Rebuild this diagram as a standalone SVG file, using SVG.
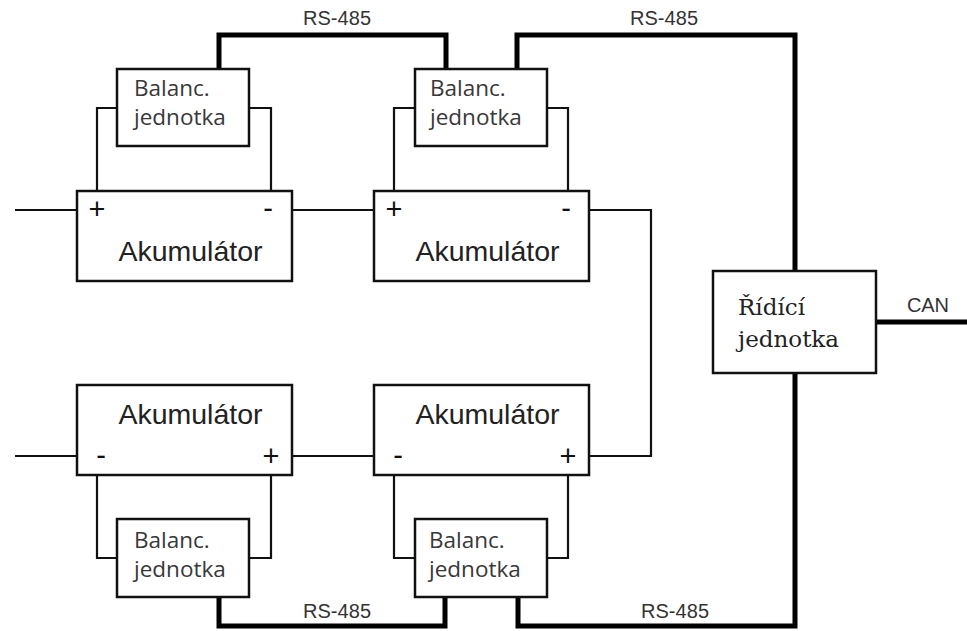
<svg xmlns="http://www.w3.org/2000/svg" width="967" height="631" viewBox="0 0 967 631">
<style>
.box{fill:#fff;stroke:#111;stroke-width:2.5}
.thin{fill:none;stroke:#111;stroke-width:2.2}
.thick{fill:none;stroke:#000;stroke-width:5}
.ak{font-family:"Liberation Sans",Arial,sans-serif;font-size:28.5px;fill:#222;text-anchor:middle}
.pm{font-family:"Liberation Sans",Arial,sans-serif;font-size:29px;fill:#111;text-anchor:middle}
.bal{font-family:"Open Sans","Noto Sans",sans-serif;font-size:22.5px;fill:#383838}
.rid{font-family:"DejaVu Serif","Liberation Serif",serif;font-size:23px;fill:#222}
.lbl{font-family:"Liberation Sans",Arial,sans-serif;font-size:20px;fill:#333}
</style>
<rect width="967" height="631" fill="#fff"/>
<g id="connectors">
<path class="thin" d="M117,108 H97 V191 M249,108 H271 V191"/>
<path class="thin" d="M415,108 H394 V191 M547,108 H568 V191"/>
<path class="thin" d="M97,475 V558 H117 M271,475 V558 H249"/>
<path class="thin" d="M394,475 V558 H415 M568,475 V558 H547"/>
<path class="thin" d="M15,210 H77 M292,210 H374 M589,210 H651 V456 H589 M15,456 H77 M292,456 H374"/>
<path class="thick" d="M219,69 V35 H446 V69"/>
<path class="thick" d="M517,69 V35 H795 V271"/>
<path class="thick" d="M795,373 V626 H518 V597"/>
<path class="thick" d="M445,597 V626 H219 V597"/>
<path class="thick" d="M876,322 H967"/>
<text class="lbl" x="303" y="25" textLength="68">RS-485</text>
<text class="lbl" x="630" y="25" textLength="68">RS-485</text>
<text class="lbl" x="303" y="618" textLength="68">RS-485</text>
<text class="lbl" x="641" y="618" textLength="68">RS-485</text>
<text class="lbl" x="907" y="312" font-size="19" textLength="42">CAN</text>
</g>
<g id="akum-tl">
<rect class="box" x="77" y="191" width="215" height="90"/>
<text class="pm" x="97" y="219">+</text>
<text class="pm" x="268" y="218">-</text>
<text class="ak" x="190.5" y="261">Akumulátor</text>
</g>
<g id="akum-tm">
<rect class="box" x="374" y="191" width="215" height="90"/>
<text class="pm" x="394" y="219">+</text>
<text class="pm" x="566" y="218">-</text>
<text class="ak" x="487.5" y="261">Akumulátor</text>
</g>
<g id="akum-bl">
<rect class="box" x="77" y="385" width="215" height="90"/>
<text class="pm" x="101" y="465">-</text>
<text class="pm" x="271" y="466">+</text>
<text class="ak" x="190.5" y="424">Akumulátor</text>
</g>
<g id="akum-bm">
<rect class="box" x="374" y="385" width="215" height="90"/>
<text class="pm" x="398" y="465">-</text>
<text class="pm" x="568" y="466">+</text>
<text class="ak" x="487.5" y="424">Akumulátor</text>
</g>
<g id="bal-tl">
<rect class="box" x="117" y="69" width="132" height="77"/>
<text class="bal" x="134" y="96">Balanc.</text>
<text class="bal" x="134" y="125">jednotka</text>
</g>
<g id="bal-tm">
<rect class="box" x="415" y="69" width="132" height="77"/>
<text class="bal" x="430" y="96">Balanc.</text>
<text class="bal" x="430" y="125">jednotka</text>
</g>
<g id="bal-bl">
<rect class="box" x="117" y="519" width="132" height="78"/>
<text class="bal" x="134" y="548">Balanc.</text>
<text class="bal" x="134" y="577">jednotka</text>
</g>
<g id="bal-bm">
<rect class="box" x="415" y="519" width="132" height="78"/>
<text class="bal" x="429" y="548">Balanc.</text>
<text class="bal" x="429" y="577">jednotka</text>
</g>
<g id="ridici">
<rect class="box" x="713" y="271" width="163" height="102"/>
<text class="rid" x="738" y="315">Řídící</text>
<text class="rid" x="738" y="347">jednotka</text>
</g>
</svg>
